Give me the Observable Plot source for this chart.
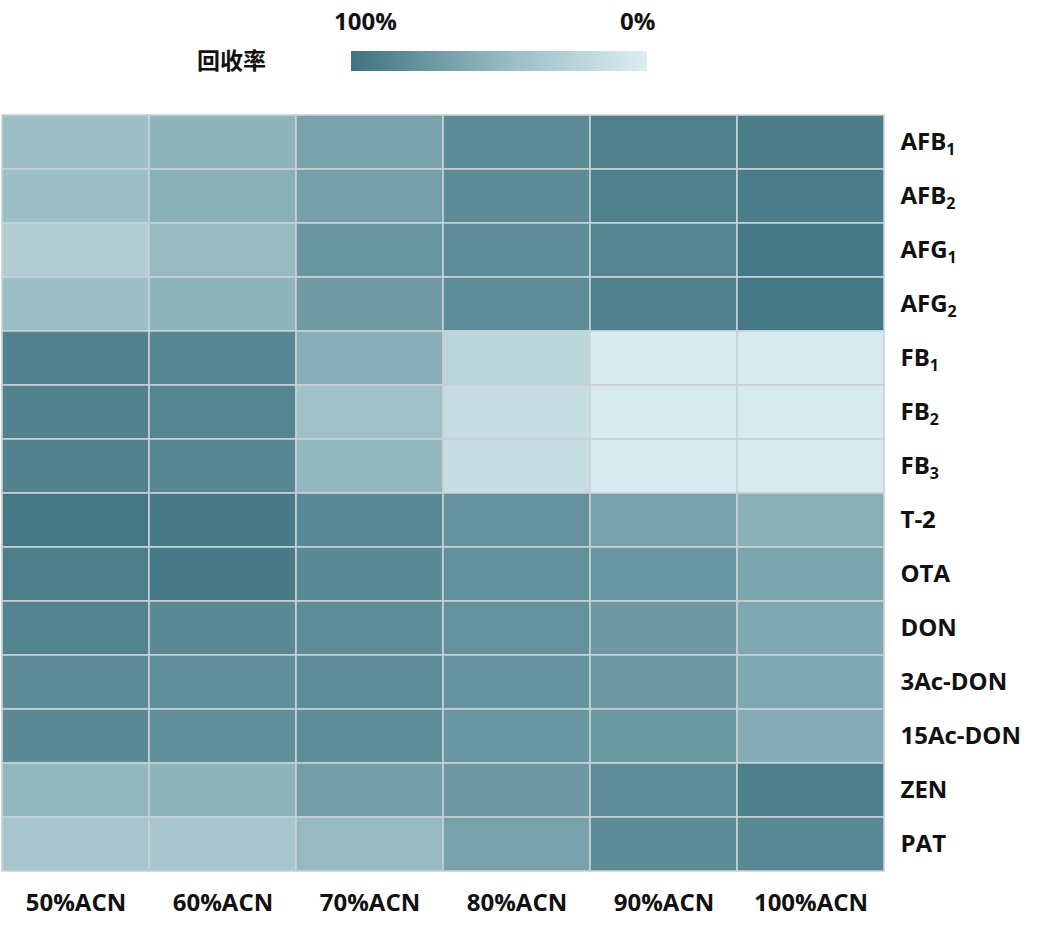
<!DOCTYPE html>
<html>
<head>
<meta charset="utf-8">
<script src="https://cdn.jsdelivr.net/npm/d3@7"></script>
<script src="https://cdn.jsdelivr.net/npm/@observablehq/plot@0.6"></script>
<style>
  body { margin: 0; background: #fff; font-family: "Open Sans", "Noto Sans CJK SC", sans-serif; }
  #wrap { position: relative; width: 1060px; height: 935px; }
  #legend-title { position: absolute; left: 197px; top: 42px; font-size: 23px; font-weight: 700; font-family: "Noto Sans CJK SC", sans-serif; color: #111; }
  #legend-bar { position: absolute; left: 351px; top: 51px; width: 296px; height: 20px; }
  .leg-lab { position: absolute; top: 4px; font-size: 24px; font-weight: 700; color: #111; }
  #chart { position: absolute; left: 0; top: 0; }
</style>
</head>
<body>
<div id="wrap">
  <div id="legend-title">回收率</div>
  <div id="legend-bar"></div>
  <div class="leg-lab" id="lab-hi" style="left:334px">100%</div>
  <div class="leg-lab" id="lab-lo" style="left:620px">0%</div>
  <div id="chart"></div>
</div>
<script>
// Solvent conditions (columns)
const solvents = ["50%ACN", "60%ACN", "70%ACN", "80%ACN", "90%ACN", "100%ACN"];
// Analytes (rows)
const analytes = ["AFB1", "AFB2", "AFG1", "AFG2", "FB1", "FB2", "FB3", "T-2", "OTA", "DON", "3Ac-DON", "15Ac-DON", "ZEN", "PAT"];
// Estimated recovery (%) per analyte, one entry per solvent
const recovery = [
  [45, 52, 66, 82, 90, 92],   // AFB1
  [45, 56, 67, 82, 90, 93],   // AFB2
  [30, 48, 75, 81, 87, 96],   // AFG1
  [45, 52, 71, 81, 89, 96],   // AFG2
  [89, 85, 57, 22, 2, 2],     // FB1
  [89, 87, 42, 15, 3, 3],     // FB2
  [89, 85, 50, 15, 2, 2],     // FB3
  [97, 95, 84, 77, 66, 56],   // T-2
  [91, 95, 83, 79, 74, 63],   // OTA
  [88, 83, 81, 78, 72, 62],   // DON
  [82, 80, 81, 76, 72, 62],   // 3Ac-DON
  [83, 80, 81, 74, 73, 58],   // 15Ac-DON
  [50, 53, 68, 72, 81, 91],   // ZEN
  [38, 38, 48, 66, 82, 84]    // PAT
];
const colorDomain = [0, 45, 100];
const colorRange = ["#dbedf2", "#9cbec5", "#3e7380"];
const labelSub = {"AFB1": ["AFB", "1"], "AFB2": ["AFB", "2"], "AFG1": ["AFG", "1"], "AFG2": ["AFG", "2"], "FB1": ["FB", "1"], "FB2": ["FB", "2"], "FB3": ["FB", "3"]};

const table = [];
analytes.forEach((a, i) => solvents.forEach((s, j) => table.push({analyte: a, solvent: s, value: recovery[i][j]})));

const chart = Plot.plot({
  width: 1060,
  height: 935,
  marginTop: 111,
  marginBottom: 61,
  marginLeft: 0,
  marginRight: 175,
  style: {fontFamily: "'Open Sans', sans-serif", fontWeight: 700, color: "#111"},
  x: {domain: solvents, padding: 0, label: null},
  y: {domain: analytes, padding: 0, label: null},
  color: {type: "linear", domain: colorDomain, range: colorRange, interpolate: "rgb"},
  marks: [
    Plot.cell(table, {x: "solvent", y: "analyte", fill: "value", stroke: "#c8d2d5", strokeWidth: 1.6, inset: 0}),
    Plot.axisX({anchor: "bottom", tickSize: 0, tickPadding: 19, fontSize: 24, fontWeight: 700, label: null}),
    Plot.axisY({anchor: "right", tickSize: 0, tickPadding: 15, fontSize: 24, fontWeight: 700, label: null})
  ]
});
document.getElementById("chart").appendChild(chart);

// subscript labels on the y axis
d3.select(chart).selectAll("g[aria-label='y-axis tick label'] text").each(function() {
  const t = d3.select(this);
  const txt = t.text();
  if (labelSub[txt]) {
    t.text(null);
    t.append("tspan").text(labelSub[txt][0]);
    t.append("tspan").attr("baseline-shift", "-5").attr("font-size", "16px").text(labelSub[txt][1]);
  }
});

// legend gradient from the same colour scale
const sc = chart.scale("color");
const stops = d3.range(0, 1.0001, 0.05).map(t => `${sc.apply(100 - t * 100)} ${t * 100}%`);
document.getElementById("legend-bar").style.background = `linear-gradient(to right, ${stops.join(",")})`;
</script>
</body>
</html>
